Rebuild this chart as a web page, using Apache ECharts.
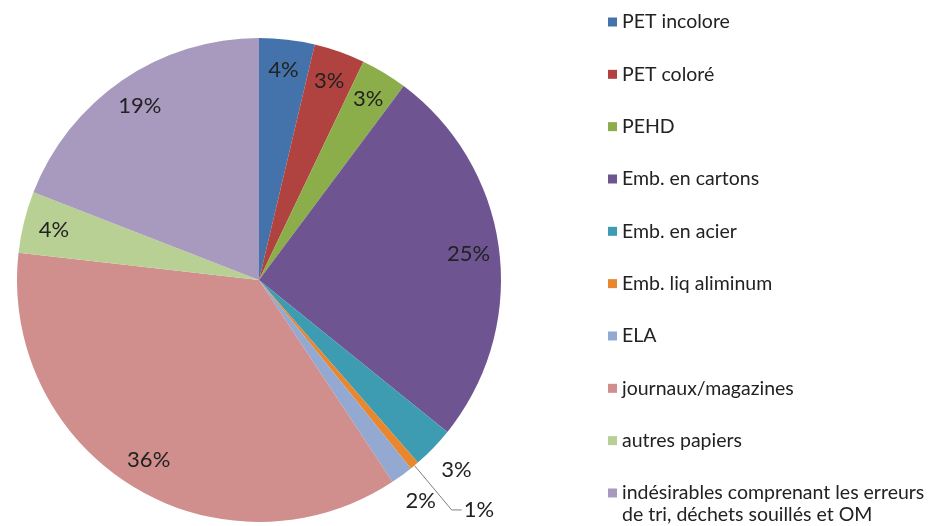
<!DOCTYPE html>
<html>
<head>
<meta charset="utf-8">
<script src="https://cdn.jsdelivr.net/npm/echarts@6/dist/echarts.min.js"></script>
<style>
  html, body { margin: 0; padding: 0; background: #fff; }
  #chart { width: 940px; height: 526px; }
</style>
</head>
<body>
<div id="chart"></div>
<script>
const categories = [
    'PET incolore', 'PET coloré', 'PEHD', 'Emb. en cartons', 'Emb. en acier',
    'Emb. liq aliminum', 'ELA', 'journaux/magazines', 'autres papiers',
    'indésirables comprenant les erreurs'
];
// the last legend entry wraps onto a second line in the original
const lastLegendTail = 'de tri, déchets souillés et OM';
// slice sizes (angles), and the rounded labels it prints
const shares = [3.7, 3.4, 3.1, 25.6, 2.8, 0.6, 1.5, 36.1, 4.1, 19.1];
const pctLabels = ['4%', '3%', '3%', '25%', '3%', '1%', '2%', '36%', '4%', '19%'];
const colors = ['#4472AA', '#B0433F', '#8BAE4A', '#6E5490', '#3E9CB2',
    '#E8872E', '#93A9D1', '#D08E8C', '#B9D094', '#A899BE'];

// slices whose label sits outside the pie
const OUTSIDE_PLAIN = [4, 6];
const OUTSIDE_LINE = [5];

const CX = 259, CY = 280, R = 242;
const labelFont = { fontFamily: 'Lato', fontSize: 22, color: '#222' };
const legendFont = { fontFamily: 'Lato', fontSize: 19.5, color: '#222', lineHeight: 22 };

const LEGEND_LEFT = 608, LEGEND_TOP = 11, LEGEND_STEP = 52.33, LEGEND_ROW = 22;

const chart = echarts.init(document.getElementById('chart'), null, { renderer: 'canvas' });

function pctOf(p) { return pctLabels[p.dataIndex]; }

const baseData = categories.map(function (name, i) {
    return { name: name, value: shares[i], itemStyle: { color: colors[i] } };
});

// invisible ring used only to place inner labels near the rim (like Excel)
const innerLabelData = categories.map(function (name, i) {
    const item = { name: name, value: shares[i] };
    if (OUTSIDE_PLAIN.indexOf(i) >= 0) item.label = { show: false };
    if (OUTSIDE_LINE.indexOf(i) >= 0) {
        item.label = { show: true, position: 'outside', distanceToLabelLine: 2 };
        item.labelLine = { show: true, length: 58, length2: 10, lineStyle: { color: '#808080', width: 1 } };
    }
    return item;
});

const outerLabelData = categories.map(function (name, i) {
    return { name: name, value: shares[i], label: { show: OUTSIDE_PLAIN.indexOf(i) >= 0 } };
});

const option = {
    animation: false,
    backgroundColor: '#fff',
    legend: {
        orient: 'vertical',
        left: LEGEND_LEFT,
        top: LEGEND_TOP,
        height: 600,
        padding: 0,
        itemWidth: 9,
        itemHeight: 9,
        itemGap: LEGEND_STEP - LEGEND_ROW,
        icon: 'rect',
        data: categories,
        selectedMode: false,
        textStyle: legendFont
    },
    graphic: [{
        type: 'text',
        left: LEGEND_LEFT + 14,
        top: LEGEND_TOP + LEGEND_STEP * (categories.length - 1) + LEGEND_ROW,
        style: Object.assign({ text: lastLegendTail }, {
            fontFamily: legendFont.fontFamily, fontSize: legendFont.fontSize,
            fill: legendFont.color, lineHeight: legendFont.lineHeight
        })
    }],
    series: [
        {
            name: 'base',
            type: 'pie',
            center: [CX, CY],
            radius: [0, R],
            startAngle: 90,
            clockwise: true,
            avoidLabelOverlap: false,
            label: { show: false },
            labelLine: { show: false },
            itemStyle: { borderWidth: 0 },
            emphasis: { disabled: true },
            data: baseData
        },
        {
            name: 'innerLabels',
            type: 'pie',
            center: [CX, CY],
            radius: [R * 0.72, R],
            startAngle: 90,
            clockwise: true,
            silent: true,
            avoidLabelOverlap: false,
            legendHoverLink: false,
            itemStyle: { color: 'transparent', borderWidth: 0 },
            label: Object.assign({ show: true, position: 'inside', formatter: pctOf }, labelFont),
            labelLine: { show: false },
            emphasis: { disabled: true },
            data: innerLabelData
        },
        {
            name: 'outerLabels',
            type: 'pie',
            center: [CX, CY],
            radius: [R + 20, R + 38],
            startAngle: 90,
            clockwise: true,
            silent: true,
            avoidLabelOverlap: false,
            legendHoverLink: false,
            itemStyle: { color: 'transparent', borderWidth: 0 },
            label: Object.assign({ position: 'inside', formatter: pctOf }, labelFont),
            labelLine: { show: false },
            emphasis: { disabled: true },
            data: outerLabelData
        }
    ]
};

chart.setOption(option);
</script>
</body>
</html>
